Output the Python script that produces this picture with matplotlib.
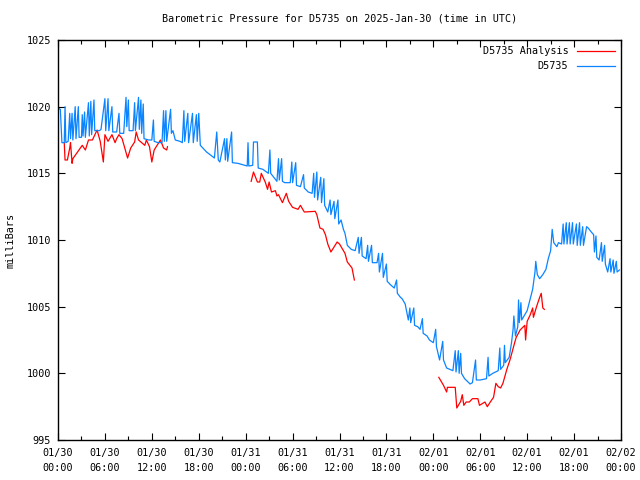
import numpy as np
import matplotlib
matplotlib.use('Agg')
import matplotlib.pyplot as plt

nan = np.nan

# hours since 2025-01-30 00:00 UTC
blue_h = [0.0, 0.3, 0.5, 0.8, 0.9, 1.0, 1.3, 1.5, 1.6, 1.8, 1.9, 2.2, 2.3, 2.6, 2.7, 3.0, 3.1, 3.2, 3.4, 3.5,
          3.9, 4.0, 4.2, 4.3, 4.6, 4.7, 5.3, 5.5, 6.0, 6.1, 6.4, 6.5, 6.9, 7.0, 7.5, 7.8, 7.9, 8.4, 8.7, 8.8,
          9.0, 9.1, 9.6, 9.8, 9.9, 10.3, 10.4, 10.6, 10.7, 10.9, 11.0, 11.6, 12.0, 12.2, 12.3, 12.8, 13.3, 13.5, 13.6, 13.8,
          13.9, 14.4, 14.5, 14.7, 15.0, 15.6, 15.9, 16.1, 16.2, 16.6, 16.7, 17.2, 17.3, 17.7, 17.8, 18.0, 18.2, 19.0, 20.0, 20.3,
          20.5, 20.7, 21.3, 21.4, 21.6, 21.7, 22.2, 22.3, 23.0, 24.2, 24.3, 24.4, 24.9, 25.0, 25.5, 25.6, 26.2, 26.9, 27.1, 27.2,
          28.0, 28.2, 28.3, 28.6, 28.7, 29.0, 29.7, 29.9, 30.0, 30.4, 30.5, 31.0, 31.4, 31.5, 32.0, 32.5, 32.7, 32.8, 33.1, 33.2,
          33.6, 33.7, 34.0, 34.1, 34.5, 34.8, 34.9, 35.3, 35.4, 35.8, 35.9, 36.2, 36.5, 36.7, 37.0, 37.5, 38.0, 38.4, 38.5, 38.8,
          38.9, 39.4, 39.6, 39.7, 40.1, 40.2, 40.8, 41.0, 41.1, 41.5, 41.6, 42.0, 42.1, 42.6, 43.0, 43.3, 43.4, 43.8, 44.0, 44.4,
          44.6, 44.8, 45.0, 45.1, 45.5, 45.6, 46.0, 46.3, 46.6, 46.7, 47.2, 47.5, 48.0, 48.3, 48.4, 48.8, 49.2, 49.3, 49.7, 50.5,
          50.8, 50.9, 51.2, 51.3, 51.5, 51.6, 52.0, 52.7, 53.0, 53.4, 53.5, 54.0, 54.8, 55.0, 55.1, 55.6, 56.3, 56.5, 56.6, 57.0,
          57.1, 57.2, 57.7, 58.0, 58.2, 58.3, 58.5, 58.8, 58.9, 59.0, 59.2, 59.3, 59.6, 60.0, 60.4, 60.7, 61.0, 61.1, 61.3, 61.6,
          62.0, 62.4, 62.7, 63.0, 63.2, 63.4, 63.8, 64.0, 64.4, 64.6, 64.7, 65.0, 65.1, 65.4, 65.5, 65.8, 65.9, 66.3, 66.4, 66.7,
          66.8, 67.1, 67.2, 67.6, 67.8, 68.2, 68.5, 68.6, 68.8, 68.9, 69.2, 69.5, 69.6, 69.9, 70.0, 70.3, 70.6, 70.7, 71.0, 71.1,
          71.4, 71.5, 71.8]
blue_v = [1019.9, 1019.8, 1017.3, 1017.3, 1020.0, 1017.3, 1017.4, 1019.5, 1017.6, 1019.5, 1017.5, 1020.0, 1017.6, 1020.0, 1017.7, 1017.7, 1019.4, 1017.8, 1019.6, 1017.7,
          1020.3, 1017.8, 1020.4, 1017.9, 1020.5, 1018.2, 1018.2, 1018.3, 1020.6, 1018.2, 1020.6, 1018.2, 1020.0, 1018.1, 1018.1, 1019.5, 1018.0, 1018.0, 1020.7, 1018.5,
          1020.5, 1018.2, 1018.2, 1020.3, 1018.2, 1020.7, 1018.3, 1020.5, 1018.0, 1020.2, 1017.6, 1017.5, 1017.5, 1019.0, 1017.4, 1017.3, 1017.3, 1019.7, 1017.4, 1019.7,
          1017.4, 1019.8, 1018.0, 1018.2, 1017.5, 1017.4, 1017.3, 1019.7, 1017.4, 1019.5, 1017.3, 1019.5, 1017.3, 1019.4, 1017.4, 1019.5, 1017.1, 1016.6, 1016.15, 1018.1,
          1016.0, 1015.85, 1017.6, 1016.0, 1017.6, 1015.9, 1018.1, 1015.8, 1015.75, 1015.55, 1017.3, 1015.55, 1015.6, 1017.35, 1017.35, 1015.4, 1015.3, 1015.0, 1016.75, 1015.0,
          1014.4, 1016.1, 1014.5, 1016.1, 1014.4, 1014.3, 1014.3, 1015.85, 1014.3, 1015.8, 1014.1, 1014.0, 1014.9, 1013.9, 1013.6, 1013.5, 1015.0, 1013.2, 1015.1, 1013.0,
          1014.7, 1012.8, 1014.6, 1012.6, 1012.1, 1013.0, 1011.9, 1012.9, 1011.6, 1013.0, 1011.2, 1011.5, 1010.8, 1010.5, 1009.6, 1009.3, 1009.2, 1010.2, 1009.0, 1010.2,
          1008.8, 1008.6, 1009.6, 1008.4, 1009.6, 1008.3, 1008.3, 1009.0, 1007.6, 1009.0, 1007.2, 1008.2, 1006.9, 1006.6, 1006.4, 1007.0, 1006.0, 1005.7, 1005.6, 1005.2,
          1004.6, 1004.0, 1004.9, 1003.8, 1004.9, 1003.6, 1003.5, 1003.3, 1004.1, 1003.0, 1002.8, 1002.5, 1002.3, 1003.3, 1002.0, 1001.0, 1002.4, 1001.0, 1000.4, 1000.2,
          1001.7, 1000.1, 1001.7, 1000.0, 1001.5, 1000.0, 999.6, 999.2, 999.3, 1001.0, 999.5, 999.5, 999.6, 1001.2, 999.8, 1000.0, 1000.2, 1001.9, 1000.3, 1000.6,
          1002.1, 1000.8, 1001.2, 1002.3, 1003.3, 1004.3, 1002.8, 1003.5, 1005.5, 1003.8, 1005.3, 1004.0, 1004.3, 1004.7, 1005.6, 1006.3, 1007.6, 1008.4, 1007.4, 1007.1,
          1007.4, 1007.8, 1008.6, 1009.2, 1010.8, 1009.8, 1009.5, 1009.8, 1009.7, 1011.2, 1009.7, 1011.3, 1009.7, 1011.3, 1009.7, 1011.3, 1009.7, 1011.2, 1009.6, 1011.3,
          1009.6, 1011.0, 1009.6, 1011.0, 1010.9, 1010.6, 1010.4, 1009.1, 1010.3, 1008.7, 1008.5, 1009.8, 1008.4, 1009.6, 1008.2, 1007.6, 1008.6, 1007.6, 1008.5, 1007.5,
          1008.4, 1007.6, 1007.75]

red_h = [0.8, 0.9, 1.2, 1.5, 1.6, 1.8, 1.9, 2.5, 3.1, 3.5, 3.9, 4.4, 5.0, 5.4, 5.8, 6.0, 6.4, 6.9, 7.3, 7.5,
         7.8, 8.2, 8.9, 9.3, 9.8, 10.0, 10.3, 10.7, 11.1, 11.3, 11.7, 12.0, 12.3, 13.1, 13.5, 13.9, 14.0, 19.0,
         24.7, 25.0, 25.5, 25.8, 26.0, 26.5, 26.8, 27.0, 27.3, 27.8, 28.0, 28.2, 28.7, 29.2, 29.5, 30.0, 30.7, 31.0,
         31.5, 32.9, 33.1, 33.5, 33.9, 34.2, 34.5, 34.9, 35.7, 36.0, 36.7, 37.0, 37.6, 37.9, 43.0,
         48.7, 49.3, 49.7, 49.8, 50.8, 51.0, 51.5, 51.7, 51.9, 52.2, 52.6, 53.0, 53.7, 53.9, 54.6, 54.9, 55.4, 55.7,
         56.0, 56.3, 56.6, 56.9, 57.4, 57.8, 58.4, 58.6, 59.1, 59.7, 59.8, 60.0, 60.4, 60.7, 60.8, 61.2, 61.6, 61.8,
         62.0, 62.2]
red_v = [1017.3, 1016.0, 1016.0, 1016.9, 1017.3, 1015.75, 1016.1, 1016.6, 1017.1, 1016.75, 1017.5, 1017.5, 1018.25, 1017.4, 1015.85, 1017.9, 1017.4, 1017.9, 1017.3, 1017.6,
         1017.9, 1017.6, 1016.15, 1016.9, 1017.35, 1018.1, 1017.5, 1017.3, 1017.1, 1017.5, 1017.0, 1015.85, 1016.75, 1017.5, 1016.9, 1016.75, 1017.0, nan,
         1014.4, 1015.1, 1014.35, 1014.35, 1015.0, 1014.35, 1013.8, 1014.35, 1013.6, 1013.7, 1013.3, 1013.4, 1012.8, 1013.5, 1012.9, 1012.45, 1012.3, 1012.6,
         1012.1, 1012.15, 1011.9, 1010.9, 1010.8, 1010.4, 1009.7, 1009.1, 1009.85, 1009.7, 1009.0, 1008.35, 1007.9, 1007.0, nan,
         999.7, 999.1, 998.6, 998.95, 998.95, 997.4, 997.9, 998.4, 997.6, 997.85, 997.85, 998.1, 998.1, 997.6, 997.85, 997.5, 997.95, 998.2,
         999.25, 999.0, 998.9, 999.25, 1000.3, 1001.0, 1002.3, 1002.7, 1003.25, 1003.6, 1002.5, 1003.9, 1004.4, 1004.9, 1004.2, 1005.0, 1005.7, 1006.0,
         1004.9, 1004.8]

xtick_h = list(range(0, 73, 6))
xtick_labels = ['01/30\n00:00', '01/30\n06:00', '01/30\n12:00', '01/30\n18:00',
                '01/31\n00:00', '01/31\n06:00', '01/31\n12:00', '01/31\n18:00',
                '02/01\n00:00', '02/01\n06:00', '02/01\n12:00', '02/01\n18:00',
                '02/02\n00:00']
ytick_v = [995, 1000, 1005, 1010, 1015, 1020, 1025]

plt.rcParams['font.family'] = 'DejaVu Sans Mono'
plt.rcParams['font.size'] = 7.3

fig = plt.figure(figsize=(6.4, 4.8), dpi=100)
ax = fig.add_axes([58 / 640, 40 / 480, 563 / 640, 400 / 480])

ax.plot(red_h, red_v, color='#ff0000', lw=0.9, label='D5735 Analysis')
ax.plot(blue_h, blue_v, color='#0a84ff', lw=0.9, label='D5735')

ax.set_xlim(0, 72)
ax.set_ylim(995, 1025)
ax.set_xticks(xtick_h)
ax.set_xticklabels(xtick_labels, linespacing=1.6)
ax.set_xticks(range(3, 72, 6), minor=True)
ax.set_yticks(ytick_v)
ax.tick_params(which='both', direction='in', top=True, right=True, width=0.8)
ax.tick_params(which='major', length=5, pad=6)
ax.tick_params(which='minor', length=3)
ax.tick_params(axis='y', pad=5)
for s in ax.spines.values():
    s.set_linewidth(1.0)

ax.set_title('Barometric Pressure for D5735 on 2025-Jan-30 (time in UTC)', fontsize=7.3, pad=13)
ax.set_ylabel('milliBars', labelpad=8)
ax.legend(loc='upper right', markerfirst=False, frameon=False, handlelength=3.7,
          handletextpad=0.9, labelspacing=0.5, borderaxespad=0.3, borderpad=0.3)

fig.savefig('out.png', dpi=100)
